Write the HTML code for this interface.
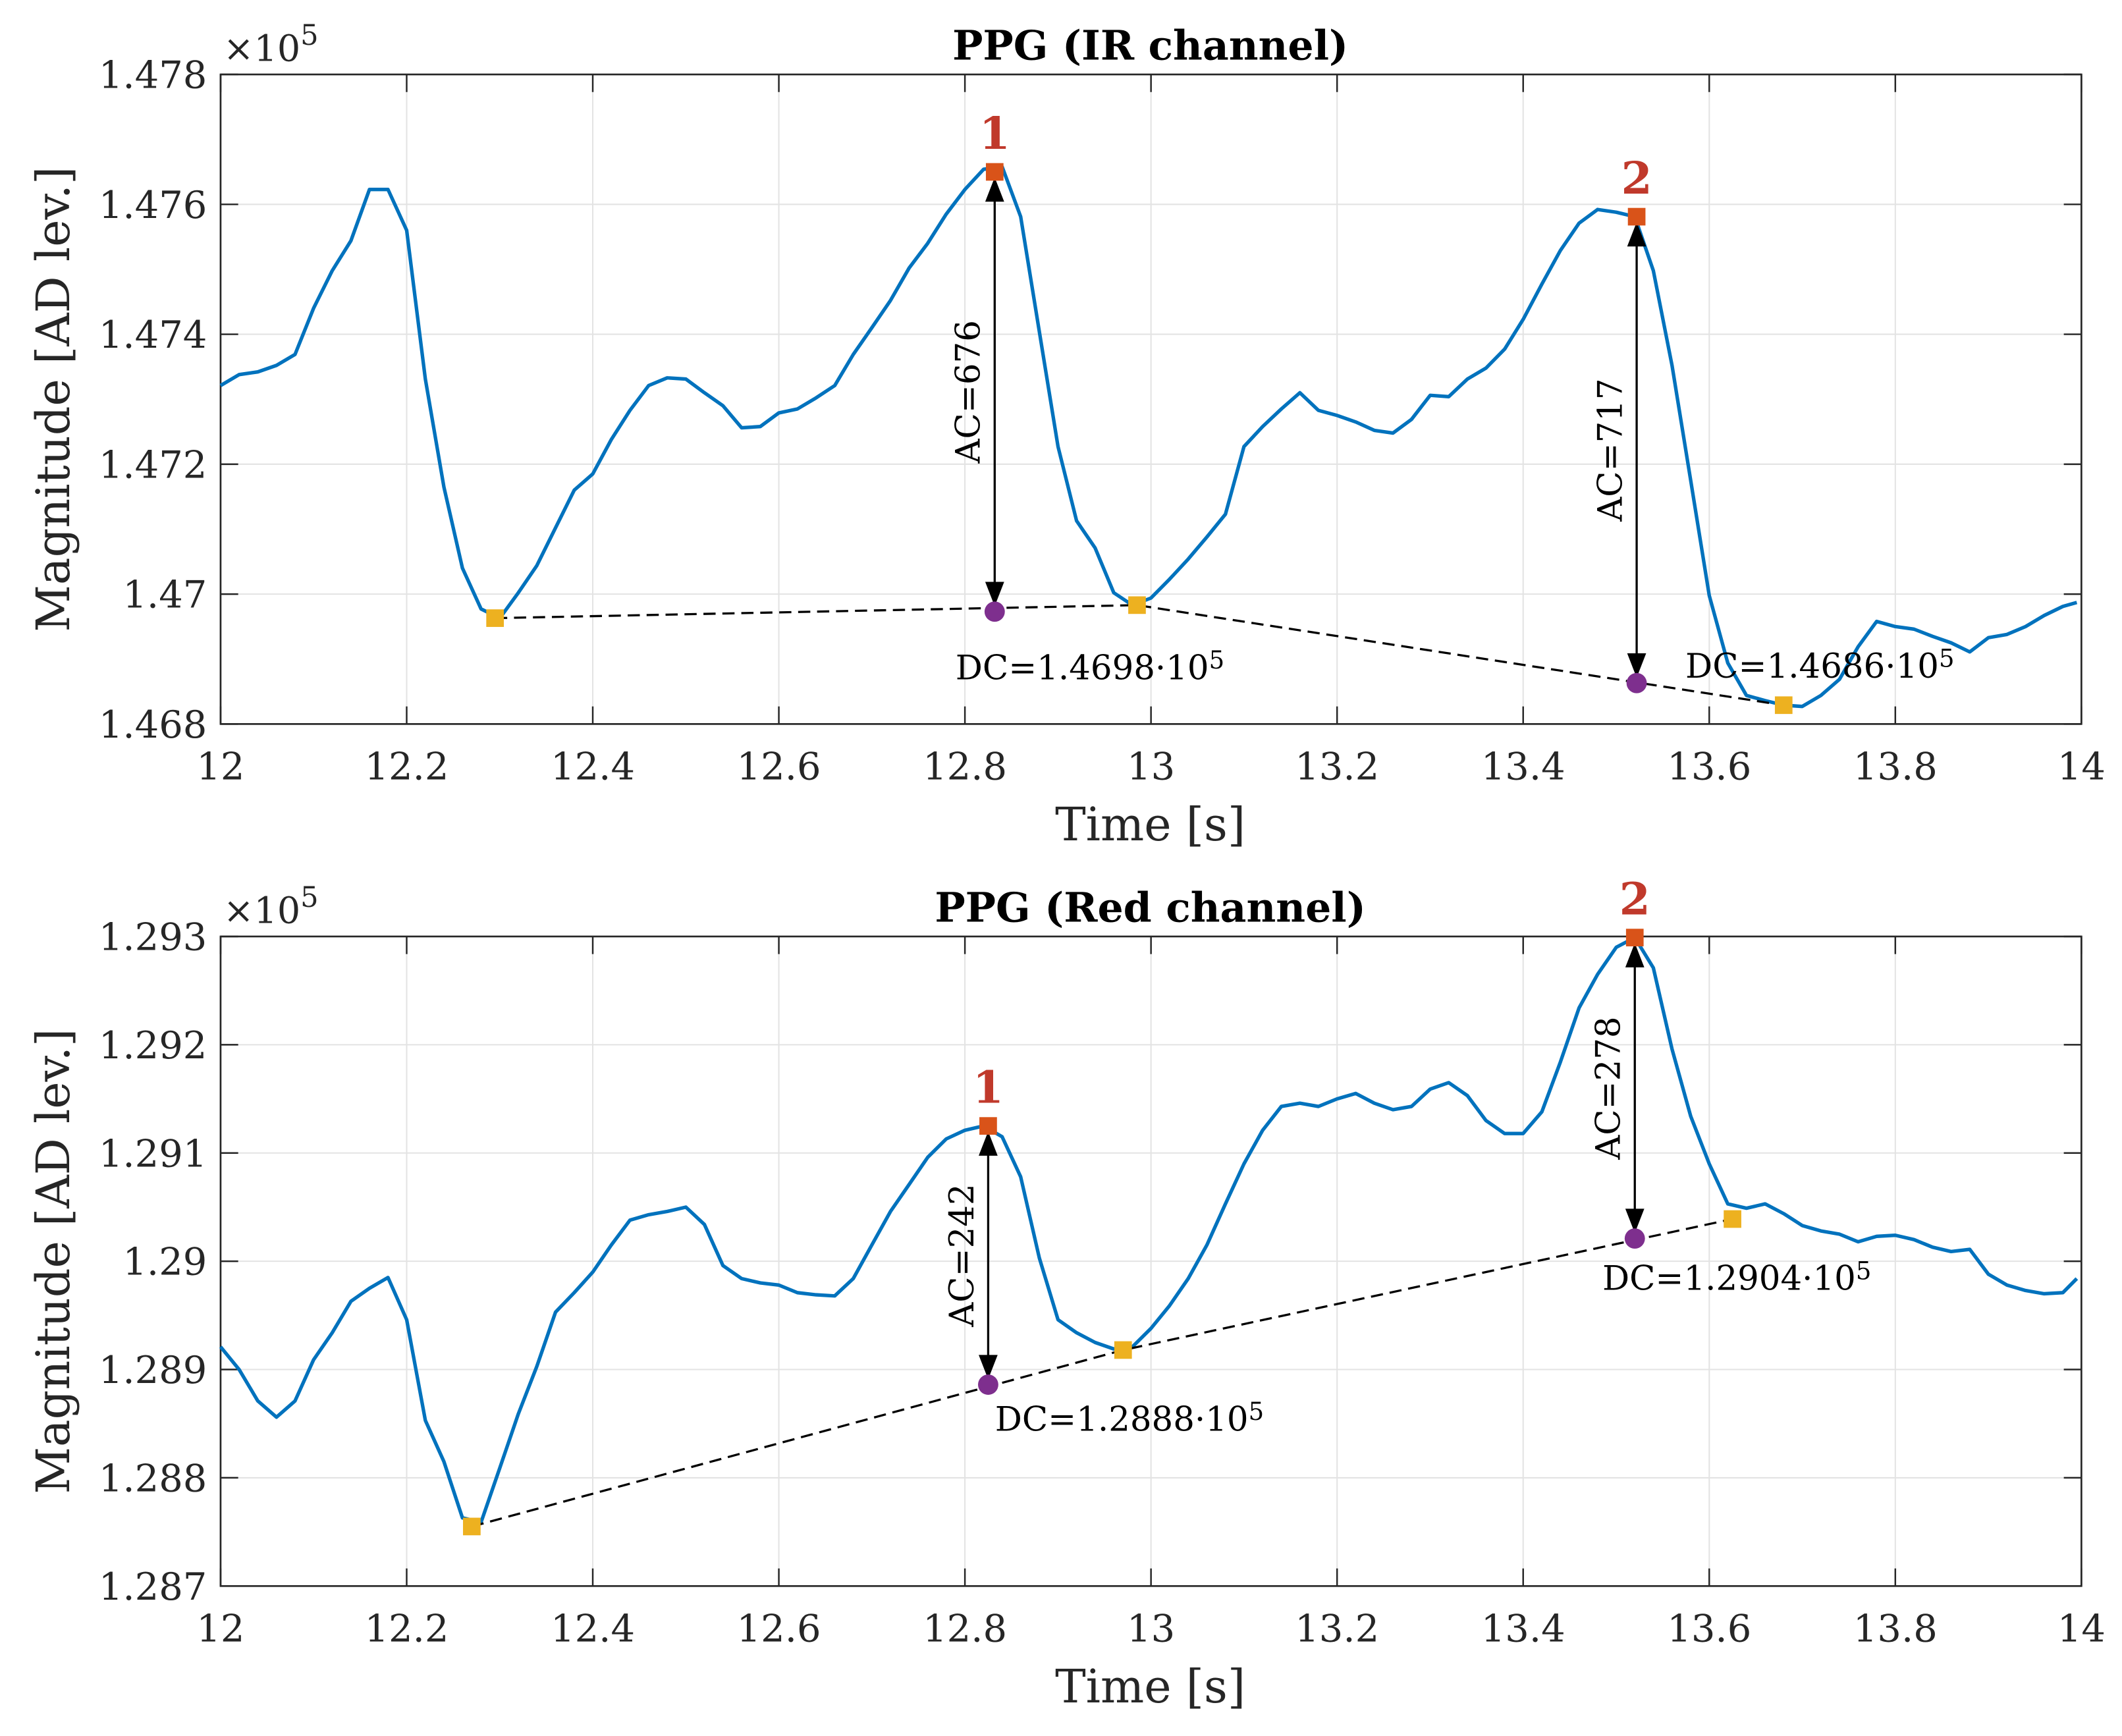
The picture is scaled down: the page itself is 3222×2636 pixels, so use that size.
<!DOCTYPE html>
<html><head><meta charset="utf-8"><style>
html,body{margin:0;padding:0;background:#fff;}
svg{display:block;}
text{font-family:"DejaVu Serif","Liberation Serif",serif;}
</style></head><body>
<svg id="chart" width="3222" height="2636" viewBox="0 0 1568 1282.8" xmlns="http://www.w3.org/2000/svg" fill="#262626"></svg>
<script>
// ---- data ----
const irTime = [12.00,12.02,12.04,12.06,12.08,12.10,12.12,12.14,12.16,12.18,12.20,12.22,12.24,12.26,12.28,12.30,12.32,12.34,12.36,12.38,12.40,12.42,12.44,12.46,12.48,12.50,12.52,12.54,12.56,12.58,12.60,12.62,12.64,12.66,12.68,12.70,12.72,12.74,12.76,12.78,12.80,12.82,12.84,12.86,12.88,12.90,12.92,12.94,12.96,12.98,13.00,13.02,13.04,13.06,13.08,13.10,13.12,13.14,13.16,13.18,13.20,13.22,13.24,13.26,13.28,13.30,13.32,13.34,13.36,13.38,13.40,13.42,13.44,13.46,13.48,13.50,13.52,13.54,13.56,13.58,13.60,13.62,13.64,13.66,13.68,13.70,13.72,13.74,13.76,13.78,13.80,13.82,13.84,13.86,13.88,13.90,13.92,13.94,13.96,13.98,13.995];
const irValues = [1.47321,1.47338,1.47342,1.47352,1.47369,1.47440,1.47498,1.47544,1.47623,1.47623,1.47560,1.47331,1.47165,1.47040,1.46977,1.46963,1.47002,1.47044,1.47102,1.47160,1.47185,1.47238,1.47283,1.47321,1.47333,1.47331,1.47310,1.47290,1.47256,1.47258,1.47279,1.47285,1.47302,1.47321,1.47369,1.47410,1.47452,1.47502,1.47540,1.47585,1.47623,1.47654,1.47658,1.47581,1.47404,1.47227,1.47113,1.47071,1.47002,1.46983,1.46994,1.47023,1.47054,1.47088,1.47123,1.47227,1.47258,1.47285,1.47310,1.47283,1.47275,1.47265,1.47252,1.47248,1.47269,1.47306,1.47304,1.47331,1.47348,1.47377,1.47423,1.47477,1.47529,1.47571,1.47592,1.47588,1.47581,1.47498,1.47352,1.47175,1.46998,1.46894,1.46844,1.46836,1.46829,1.46827,1.46844,1.46869,1.46919,1.46958,1.46950,1.46946,1.46935,1.46925,1.46911,1.46933,1.46938,1.46950,1.46967,1.46981,1.46987];
const redTime = irTime;
const redValues = [1.28921,1.28900,1.28871,1.28856,1.28871,1.28909,1.28934,1.28963,1.28975,1.28985,1.28946,1.28853,1.28815,1.28763,1.28759,1.28809,1.28859,1.28903,1.28953,1.28971,1.28990,1.29015,1.29038,1.29043,1.29046,1.29050,1.29034,1.28996,1.28984,1.28980,1.28978,1.28971,1.28969,1.28968,1.28984,1.29015,1.29046,1.29071,1.29096,1.29113,1.29121,1.29125,1.29115,1.29078,1.29003,1.28946,1.28934,1.28925,1.28919,1.28921,1.28938,1.28959,1.28984,1.29015,1.29053,1.29090,1.29121,1.29143,1.29146,1.29143,1.29150,1.29155,1.29146,1.29140,1.29143,1.29159,1.29165,1.29153,1.29130,1.29118,1.29118,1.29138,1.29184,1.29234,1.29265,1.29290,1.29299,1.29271,1.29196,1.29134,1.29090,1.29053,1.29049,1.29053,1.29044,1.29033,1.29028,1.29025,1.29018,1.29023,1.29024,1.29020,1.29013,1.29009,1.29011,1.28988,1.28978,1.28973,1.28970,1.28971,1.28984];
const xTicks = [12,12.2,12.4,12.6,12.8,13,13.2,13.4,13.6,13.8,14];
const xTickLabels = ["12","12.2","12.4","12.6","12.8","13","13.2","13.4","13.6","13.8","14"];
const irYTicks = [1.468,1.470,1.472,1.474,1.476,1.478];
const irYTickLabels = ["1.468","1.47","1.472","1.474","1.476","1.478"];
const redYTicks = [1.287,1.288,1.289,1.290,1.291,1.292,1.293];
const redYTickLabels = ["1.287","1.288","1.289","1.29","1.291","1.292","1.293"];
// markers
const irPeakT = [12.832,13.522]; const irPeakV = [1.47650,1.47581];
const irMinT = [12.295,12.985,13.680]; const irMinV = [1.46963,1.46983,1.46829];
const irDcT = [12.832,13.522]; const irDcV = [1.46973,1.46863];
const irAcLabels = ["AC=676","AC=717"]; const irDcLabels = ["1.4698","1.4686"];
const redPeakT = [12.825,13.520]; const redPeakV = [1.29125,1.29299];
const redMinT = [12.270,12.970,13.625]; const redMinV = [1.28755,1.28918,1.29039];
const redDcT = [12.825,13.520]; const redDcV = [1.28886,1.29021];
const redAcLabels = ["AC=242","AC=278"]; const redDcLabels = ["1.2888","1.2904"];

const NS = "http://www.w3.org/2000/svg";
const svg = document.getElementById('chart');
function mk(tag, attrs, parent){ const e=document.createElementNS(NS,tag); for(const k in attrs) e.setAttribute(k,attrs[k]); (parent||svg).appendChild(e); return e; }

function panel(cfg){
  const L=163,R=1538,T=cfg.top,B=cfg.top+480;
  const xs=t=>L+(t-12)/2*(R-L);
  const ys=v=>B-(v-cfg.ymin)/(cfg.ymax-cfg.ymin)*(B-T);
  const g=mk('g',{});
  
  
  xTicks.forEach((t,i)=>{
    if(i>0&&i<xTicks.length-1){ const l=mk('line',{x1:xs(t),x2:xs(t),y1:T,y2:B,stroke:'#e3e3e3','stroke-width':1},g);
        }
  });
  cfg.yt.forEach((v,i)=>{
    if(i>0&&i<cfg.yt.length-1){ const l=mk('line',{x1:L,x2:R,y1:ys(v),y2:ys(v),stroke:'#e3e3e3','stroke-width':1},g);
        }
  });
  xTicks.forEach((t,i)=>{
    mk('line',{x1:xs(t),x2:xs(t),y1:B,y2:B-13,stroke:'#262626','stroke-width':1.2},g);
    mk('line',{x1:xs(t),x2:xs(t),y1:T,y2:T+13,stroke:'#262626','stroke-width':1.2},g);
    const tx=mk('text',{x:xs(t),y:B+41,'font-size':28,'text-anchor':'middle'},g); tx.textContent=xTickLabels[i];
     
  });
  cfg.yt.forEach((v,i)=>{
    mk('line',{x1:L,x2:L+13,y1:ys(v),y2:ys(v),stroke:'#262626','stroke-width':1.2},g);
    mk('line',{x1:R,x2:R-13,y1:ys(v),y2:ys(v),stroke:'#262626','stroke-width':1.2},g);
    const tx=mk('text',{x:L-10,y:ys(v)+10,'font-size':28,'text-anchor':'end'},g); tx.textContent=cfg.ytl[i];
     
  });
  const fr=mk('rect',{x:L,y:T,width:R-L,height:B-T,fill:'none',stroke:'#262626','stroke-width':1.3},g);
   
  const ex=mk('text',{x:L+2,y:T-10,'font-size':27},g); ex.innerHTML='×10<tspan dy="-12" font-size="21">5</tspan>';
   
  const ti=mk('text',{x:850,y:T-11,'font-size':30,'font-weight':'bold','text-anchor':'middle',fill:'#000'},g); ti.textContent=cfg.title;
   
  const xl=mk('text',{x:850,y:B+86,'font-size':34,'text-anchor':'middle'},g); xl.textContent='Time [s]';
   
  const yl=mk('text',{x:0,y:0,'font-size':34,'text-anchor':'middle',transform:`translate(51,${(T+B)/2}) rotate(-90)`},g); yl.textContent='Magnitude [AD lev.]';
   
  const d=cfg.tArr.map((t,i)=>(i?'L':'M')+xs(t).toFixed(1)+' '+ys(cfg.vArr[i]).toFixed(1)).join(' ');
  const p=mk('path',{d:d,fill:'none',stroke:'#0072BD','stroke-width':2.6,'stroke-linejoin':'round'},g);
   
  const bd=cfg.minT.map((t,i)=>(i?'L':'M')+xs(t)+' '+ys(cfg.minV[i])).join(' ');
  const bl=mk('path',{d:bd,fill:'none',stroke:'#000','stroke-width':1.6,'stroke-dasharray':'9 5'},g);
   
  cfg.peakT.forEach((t,i)=>{
    const x=xs(t),y1=ys(cfg.peakV[i]),y2=ys(cfg.dcV[i]);
    const ln=mk('line',{x1:x,x2:x,y1:y1+14,y2:y2-14,stroke:'#000','stroke-width':1.6},g);
     
    mk('polygon',{points:`${x},${y1+4} ${x-7},${y1+22} ${x+7},${y1+22}`,fill:'#000'},g);
    mk('polygon',{points:`${x},${y2-4} ${x-7},${y2-22} ${x+7},${y2-22}`,fill:'#000'},g);
    const ym=(y1+y2)/2;
    const al=mk('text',{x:0,y:0,'font-size':25,'text-anchor':'middle',fill:'#000',transform:`translate(${x-11},${ym}) rotate(-90)`},g); al.textContent=cfg.acL[i];
     
    const pl=mk('text',{x:x,y:y1-17,'font-size':33,'font-weight':'bold','text-anchor':'middle',fill:'#C0392B'},g); pl.textContent=String(i+1);
     
  });
  cfg.minT.forEach((t,i)=>{
    const r=mk('rect',{x:xs(t)-6.5,y:ys(cfg.minV[i])-6.5,width:13,height:13,fill:'#EDB120'},g);
     
  });
  cfg.peakT.forEach((t,i)=>{
    const r=mk('rect',{x:xs(t)-6.5,y:ys(cfg.peakV[i])-6.5,width:13,height:13,fill:'#D95319'},g);
     
  });
  cfg.dcT.forEach((t,i)=>{
    const c=mk('circle',{cx:xs(t),cy:ys(cfg.dcV[i]),r:7.5,fill:'#7E2F8E'},g);
     
    const dl=mk('text',{x:xs(t)+cfg.dcDx[i],y:ys(cfg.dcV[i])+cfg.dcDy[i],'font-size':25,fill:'#000'},g);
    dl.innerHTML='DC='+cfg.dcL[i]+'·10<tspan dy="-8" font-size="18">5</tspan>';
     
  });
}
panel({name:'ir-channel-plot',top:55,ymin:1.468,ymax:1.478,yt:irYTicks,ytl:irYTickLabels,title:'PPG (IR channel)',tArr:irTime,vArr:irValues,
  peakT:irPeakT,peakV:irPeakV,minT:irMinT,minV:irMinV,dcT:irDcT,dcV:irDcV,acL:irAcLabels,dcL:irDcLabels,dcDx:[-29,36],dcDy:[50,-4]});
panel({name:'red-channel-plot',top:692,ymin:1.287,ymax:1.293,yt:redYTicks,ytl:redYTickLabels,title:'PPG (Red channel)',tArr:redTime,vArr:redValues,
  peakT:redPeakT,peakV:redPeakV,minT:redMinT,minV:redMinV,dcT:redDcT,dcV:redDcV,acL:redAcLabels,dcL:redDcLabels,dcDx:[5,-24],dcDy:[34,38]});
</script>
</body></html>
